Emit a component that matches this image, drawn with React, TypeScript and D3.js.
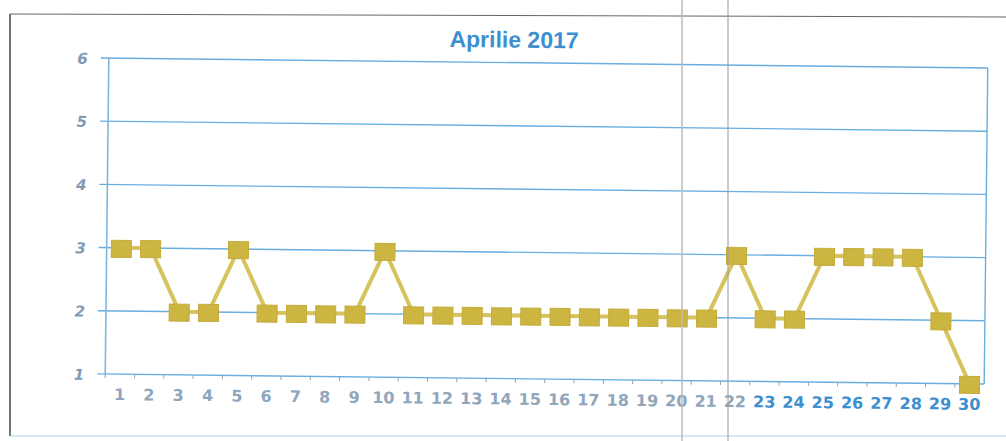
import React from "react";
import * as d3 from "d3";

const days: string[] = Array.from({ length: 30 }, (_, i) => String(i + 1));
const values: number[] = [3, 3, 2, 2, 3, 2, 2, 2, 2, 3, 2, 2, 2, 2, 2, 2, 2, 2, 2, 2, 2, 3, 2, 2, 3, 3, 3, 3, 2, 1];
const yTicks: number[] = [1, 2, 3, 4, 5, 6];
const title = "Aprilie 2017";

export default function App() {
  const W = 1006, H = 441;
  const left = 107, right = 986, top = 63, bottom = 379;
  const x = d3.scaleBand<string>().domain(days).range([left, right]);
  const y = d3.scaleLinear().domain([1, 6]).range([bottom, top]);
  const cx = (d: string) => (x(d) ?? 0) + x.bandwidth() / 2;
  const line = d3.line<number>().x((_, i) => cx(days[i])).y((v) => y(v));
  const mw = 20, mh = 17;
  return (
    <div style={{ position: "absolute", left: 0, top: 0 }}>
      <svg width={W} height={H} style={{ display: "block", background: "#fff" }}>
        <line x1={10} y1={14} x2={10} y2={436} stroke="#444" strokeWidth={1.5} />
        <line x1={10} y1={14} x2={1006} y2={17} stroke="#666" strokeWidth={1.2} />
        <line x1={10} y1={436} x2={1006} y2={436} stroke="#a8d4ee" strokeWidth={1.2} />
        <g transform="rotate(0.65 546 221)">
          <text x={512} y={48} textAnchor="middle" fontFamily="Liberation Sans, Arial, sans-serif" fontSize={23} fontWeight="bold" fill="#3d8fcf">{title}</text>
          {yTicks.map((t) => (
            <g key={t}>
              <line x1={left - 8} x2={right} y1={y(t)} y2={y(t)} stroke="#6aaee0" strokeWidth={1.4} />
              <text x={86} y={y(t) + 6} textAnchor="end" fontFamily="DejaVu Sans, sans-serif" fontSize={15} fontStyle="italic" fontWeight="bold" fill="#7f9ab5">{t}</text>
            </g>
          ))}
          <line x1={left} x2={left} y1={top} y2={bottom} stroke="#7fb6e0" strokeWidth={1.6} />
          <line x1={right} x2={right} y1={top} y2={bottom} stroke="#6aaee0" strokeWidth={1.4} />
          {days.map((d, i) => (
            <line key={"t" + d} x1={left + i * x.bandwidth()} x2={left + i * x.bandwidth()} y1={bottom} y2={bottom + 4} stroke="#8aa" strokeWidth={1} />
          ))}
          <path d={line(values) ?? ""} fill="none" stroke="#d6c35e" strokeWidth={4} />
          {values.map((v, i) => (
            <rect key={"m" + i} x={cx(days[i]) - mw / 2} y={y(v) - mh / 2 + 1} width={mw} height={mh} fill="#cdb542" stroke="#c4ab3a" strokeWidth={1} />
          ))}
          {days.map((d, i) => (
            <text key={"l" + d} x={cx(d)} y={bottom + 26} textAnchor="middle" fontFamily="DejaVu Sans, sans-serif" fontSize={16} fontWeight="bold" fill={i >= 22 ? "#3d8fcf" : "#8fa6bc"}>{d}</text>
          ))}
        </g>
        <line x1={682} y1={0} x2={682} y2={441} stroke="#bbb" strokeWidth={1.5} />
        <line x1={728} y1={0} x2={728} y2={441} stroke="#999" strokeWidth={1} />
      </svg>
    </div>
  );
}
